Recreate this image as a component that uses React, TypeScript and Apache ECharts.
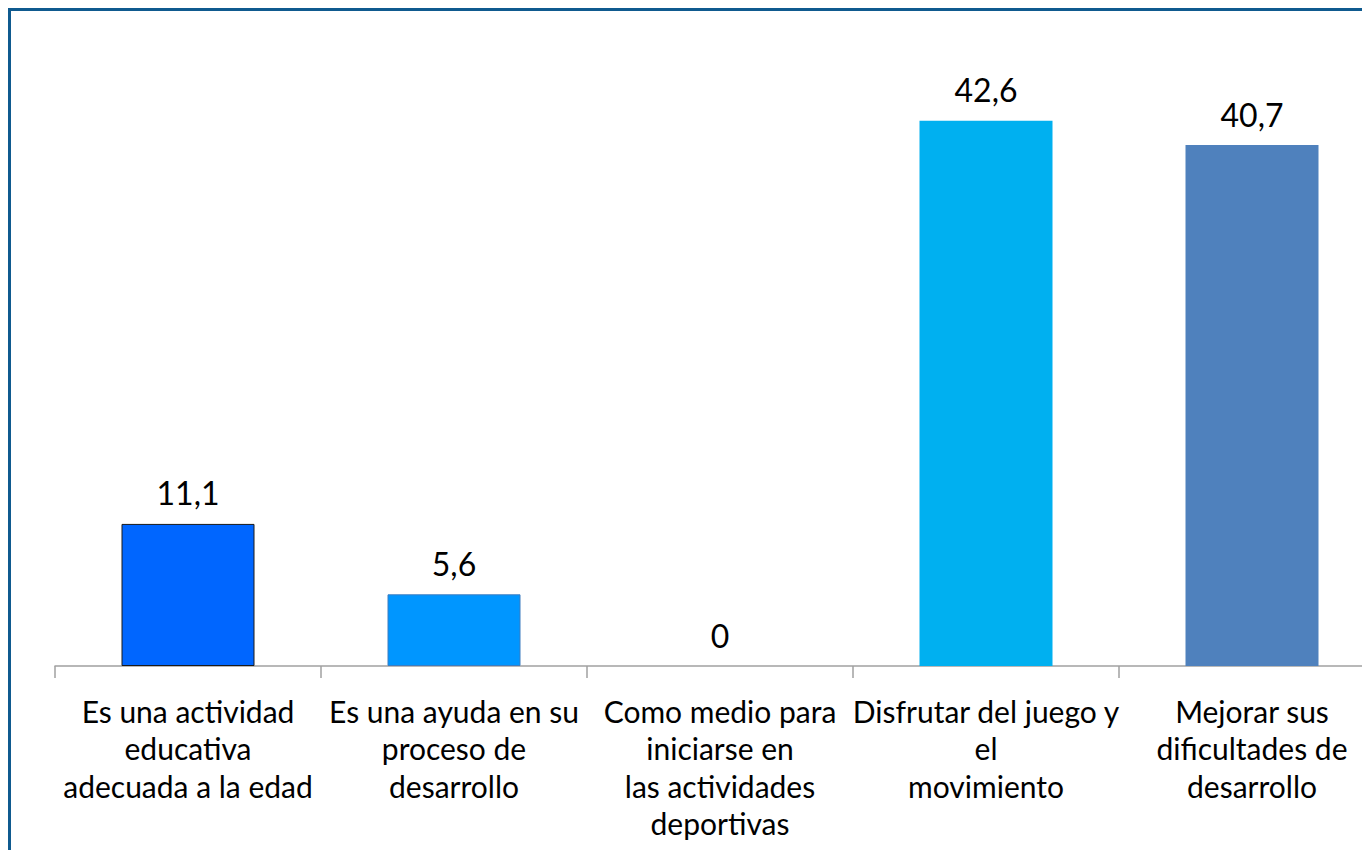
import React, { useEffect, useRef } from "react";
import * as echarts from "echarts";

const categories = [
  "Es una actividad\neducativa\nadecuada a la edad",
  "Es una ayuda en su\nproceso de\ndesarrollo",
  "Como medio para\niniciarse en\nlas actividades\ndeportivas",
  "Disfrutar del juego y\nel\nmovimiento",
  "Mejorar sus\ndificultades de\ndesarrollo",
];
const values = [11.1, 5.6, 0, 42.6, 40.7];
const barColors = ["#0066FF", "#0096FF", "#00B0F0", "#00B0F0", "#4F81BD"];
const barBorders = ["#1a1a1a", "#3d7cc0", "transparent", "transparent", "transparent"];

const FONT = "Lato, 'Open Sans', sans-serif";

export default function App() {
  const ref = useRef<HTMLDivElement>(null);
  useEffect(() => {
    if (!ref.current) return;
    const chart = echarts.init(ref.current, undefined, { renderer: "svg" });
    chart.setOption({
      animation: false,
      grid: { left: 44, top: 15, width: 1330, height: 640, containLabel: false },
      xAxis: {
        type: "category",
        data: categories,
        axisLine: { lineStyle: { color: "#a0a0a0", width: 1.5 } },
        axisTick: { show: true, length: 12, lineStyle: { color: "#a0a0a0", width: 1.5 } },
        axisLabel: {
          color: "#000",
          fontFamily: FONT,
          fontSize: 30,
          lineHeight: 37.5,
          margin: 26,
          interval: 0,
        },
      },
      yAxis: {
        type: "value",
        min: 0,
        max: 50,
        show: false,
        splitLine: { show: false },
      },
      series: [
        {
          type: "bar",
          barWidth: "50%",
          data: values.map((v, i) => ({
            value: v,
            itemStyle: { color: barColors[i], borderColor: barBorders[i], borderWidth: i < 2 ? 1 : 0 },
          })),
          label: {
            show: true,
            position: "top",
            distance: 15,
            color: "#000",
            fontFamily: FONT,
            fontSize: 32,
            formatter: (p: any) => String(p.value).replace(".", ","),
          },
        },
      ],
    });
    return () => chart.dispose();
  }, []);
  return (
    <div
      style={{
        width: 1362,
        height: 842,
        boxSizing: "border-box",
        borderTop: "3px solid #0f5a8f",
        borderLeft: "3px solid #0f5a8f",
        overflow: "hidden",
        position: "relative",
        background: "#fff",
      }}
    >
      <div ref={ref} style={{ width: 1400, height: 900, position: "absolute", left: 0, top: 0 }} />
    </div>
  );
}
